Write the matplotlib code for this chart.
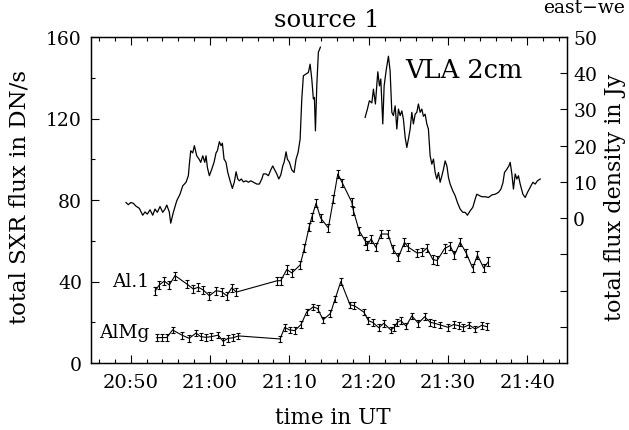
import numpy as np
import matplotlib
matplotlib.use("Agg")
import matplotlib.pyplot as plt
from matplotlib.ticker import FixedLocator, FixedFormatter, MultipleLocator

plt.rcParams.update({"font.family": "DejaVu Serif", "font.size": 13, "axes.linewidth": 0.9})

# time in minutes after 20:00 UT
vla1_t = [49.41, 49.70, 50.01, 50.33, 50.67, 51.09, 51.52, 51.81, 52.10, 52.44, 52.78, 53.07, 53.36, 53.70,
          54.04, 54.33, 54.55, 54.87, 55.05, 55.38, 55.81, 56.22, 56.56, 56.98, 57.27, 57.40, 57.57, 57.82,
          58.03, 58.33, 58.62, 58.83, 59.09, 59.34, 59.50, 59.67, 59.92, 60.22, 60.51, 60.76, 60.93, 61.18,
          61.39, 61.56, 61.77, 62.02, 62.24, 62.53, 62.82, 63.07, 63.29, 63.50, 63.70, 63.95, 64.21, 64.55,
          64.84, 65.14, 65.39, 65.64, 65.90, 66.22, 66.53, 66.73, 67.07, 67.36, 67.66, 67.91, 68.11, 68.42,
          68.67, 68.92, 69.17, 69.34, 69.59, 69.75, 70.01, 70.31, 70.60, 70.85, 71.10, 71.36, 71.57, 71.77,
          72.11, 72.40, 72.62, 72.83, 73.03, 73.16, 73.29, 73.46, 73.66, 73.92]
vla1_jy = [4.3, 3.7, 4.3, 4.1, 3.3, 2.7, 0.8, 1.7, 1.1, 2.3, 0.8, 2.5, 1.6, 3.2,
           1.6, 2.5, 3.6, 1.7, -1.4, 1.6, 4.8, 6.6, 8.9, 9.9, 11.7, 14.9, 18.6, 18.0,
           20.0, 17.2, 16.3, 15.4, 17.2, 15.4, 17.2, 14.0, 11.7, 13.5, 15.4, 18.0, 18.6, 21.1,
           20.0, 20.7, 16.3, 15.4, 12.6, 10.3, 8.2, 10.0, 12.8, 10.8, 10.3, 10.8, 10.0, 10.3,
           9.9, 10.3, 10.0, 9.7, 9.4, 9.4, 10.8, 12.2, 12.2, 11.7, 13.3, 14.4, 13.5, 12.2,
           10.8, 11.9, 14.4, 15.4, 18.3, 16.3, 15.4, 13.3, 12.6, 16.3, 18.1, 21.8, 32.9, 39.3,
           39.8, 40.2, 42.5, 38.4, 32.9, 33.3, 24.1, 36.5, 45.8, 47.2]

vla2_t = [79.55, 79.84, 80.09, 80.40, 80.60, 80.85, 81.15, 81.36, 81.53, 81.78, 81.95, 82.20, 82.49, 82.70,
          82.92, 83.12, 83.34, 83.55, 83.75, 83.97, 84.18, 84.38, 84.60, 84.81, 85.01, 85.23, 85.44, 85.64,
          85.86, 86.07, 86.27, 86.49, 86.70, 86.90, 87.12, 87.33, 87.53, 87.75, 87.96, 88.17, 88.38, 88.59,
          88.80, 89.01, 89.23, 89.43, 89.64, 89.86, 90.06, 90.27, 90.61, 90.90, 91.19, 91.53, 91.87, 92.16,
          92.45, 92.79, 93.13, 93.42, 93.63, 93.97, 94.27, 94.69, 95.10, 95.53, 95.95, 96.36, 96.67, 96.92,
          97.12, 97.42, 97.67, 97.84, 98.05, 98.25, 98.47, 98.68, 98.88, 99.10, 99.44, 99.73, 100.02, 100.36,
          100.70, 100.99, 101.28, 101.62]
vla2_jy = [27.8, 30.1, 32.4, 31.8, 35.6, 31.5, 40.4, 36.5, 38.4, 26.0, 36.5, 40.7, 44.7, 40.7,
           29.2, 28.3, 31.0, 24.6, 30.1, 28.3, 29.6, 27.3, 22.3, 19.5, 21.8, 24.6, 29.2, 26.0,
           28.7, 29.2, 31.5, 29.2, 30.1, 28.1, 28.7, 26.0, 24.6, 17.2, 14.9, 16.3, 12.6, 10.8,
           12.6, 9.9, 11.7, 13.5, 15.8, 14.4, 11.2, 9.4, 7.5, 6.2, 4.3, 2.5, 1.6, 1.6,
           0.8, 2.0, 3.0, 5.2, 6.6, 6.2, 5.9, 5.9, 5.7, 6.4, 6.6, 7.1, 8.0, 9.7,
           12.6, 13.5, 14.4, 15.4, 12.2, 8.0, 12.2, 10.8, 11.7, 9.4, 6.6, 5.7, 7.1, 8.5,
           9.9, 9.4, 10.3, 10.8]

al1_t = [53.07, 53.61, 54.24, 54.87, 55.59, 57.07, 57.90, 58.53, 59.16, 59.92, 60.76, 61.46, 62.11, 62.74,
         63.32, 68.49, 68.92, 69.68, 70.31, 71.36, 71.90, 72.49, 72.83, 73.37, 73.94, 74.92, 75.56, 76.11,
         76.69, 77.88, 78.08, 78.80, 79.55, 79.80, 80.31, 80.90, 81.57, 82.42, 83.05, 83.75, 84.51, 85.01,
         86.11, 86.74, 87.33, 88.09, 88.63, 89.58, 90.27, 90.81, 91.53, 92.29, 93.11, 93.71, 94.50, 95.10]
al1_dn = [35.3, 38.3, 40.2, 38.3, 42.9, 38.8, 36.3, 37.2, 35.8, 33.0, 35.5, 35.0, 33.0, 36.9,
          34.8, 40.4, 40.4, 45.9, 44.2, 48.1, 56.3, 66.6, 71.5, 78.4, 71.2, 66.3, 80.5, 92.8,
          88.3, 78.9, 74.7, 64.9, 60.0, 57.7, 60.9, 56.8, 63.3, 63.3, 56.0, 51.9, 59.2, 56.8,
          54.0, 54.3, 56.4, 50.8, 50.3, 56.2, 57.6, 53.0, 59.2, 54.0, 46.6, 52.9, 46.6, 49.8]

almg_t = [53.28, 53.92, 54.55, 55.28, 56.50, 57.38, 58.24, 58.81, 59.44, 60.13, 61.05, 61.65, 62.28, 62.94,
          63.58, 68.83, 69.42, 70.03, 70.69, 71.48, 72.18, 73.03, 73.56, 74.26, 75.18, 75.77, 76.49, 77.66,
          78.20, 79.39, 79.97, 80.56, 81.28, 81.91, 82.79, 83.21, 83.63, 84.05, 84.72, 85.44, 86.27, 87.05,
          87.75, 88.29, 89.01, 90.02, 90.71, 91.34, 91.95, 92.64, 93.42, 94.27, 94.90]
almg_dn = [12.4, 12.5, 12.5, 16.2, 13.6, 12.1, 14.7, 13.0, 12.6, 12.9, 13.7, 10.6, 12.1, 12.4,
           13.3, 11.8, 17.5, 16.2, 15.9, 18.9, 25.0, 27.6, 26.7, 21.2, 24.3, 31.4, 40.0, 28.5,
           28.1, 25.0, 20.8, 19.8, 17.3, 19.5, 16.2, 17.5, 20.0, 20.8, 18.1, 23.1, 19.5, 22.7,
           20.0, 19.5, 18.7, 17.5, 18.9, 18.3, 17.5, 18.7, 16.7, 18.5, 17.8]

al1_err = 2.0
almg_err = 1.6

x_major = [50, 60, 70, 80, 90, 100]
x_labels = ["20:50", "21:00", "21:10", "21:20", "21:30", "21:40"]
jy_ticks = [-30, -20, -10, 0, 10, 20, 30, 40, 50]
jy_labels = ["", "", "", "0", "10", "20", "30", "40", "50"]

fig = plt.figure(figsize=(6.29, 4.31), dpi=100)
ax = fig.add_axes([91/629, 67/431, 476/629, 326/431])
ax2 = ax.twinx()

ax.errorbar(al1_t, al1_dn, yerr=al1_err, color="k", lw=0.8, elinewidth=0.8, capsize=1.3, capthick=0.8)
ax.errorbar(almg_t, almg_dn, yerr=almg_err, color="k", lw=0.8, elinewidth=0.8, capsize=1.3, capthick=0.8)
ax2.plot(vla1_t, vla1_jy, color="k", lw=0.9)
ax2.plot(vla2_t, vla2_jy, color="k", lw=0.9)

ax.set_xlim(45, 105)
ax.set_ylim(0, 160)
ax2.set_ylim(-40, 50)

ax.xaxis.set_major_locator(FixedLocator(x_major))
ax.xaxis.set_major_formatter(FixedFormatter(x_labels))
ax.xaxis.set_minor_locator(MultipleLocator(2))
ax.yaxis.set_major_locator(MultipleLocator(40))
ax.yaxis.set_minor_locator(MultipleLocator(20))
ax.tick_params(axis="x", which="both", direction="in", top=True, bottom=True, pad=7, labelsize=14)
ax.tick_params(axis="y", which="both", direction="in", left=True, right=False, pad=6.5, labelsize=13.5)
ax.tick_params(which="major", length=5.5, width=0.8)
ax.tick_params(which="minor", length=3, width=0.8)

ax2.yaxis.set_major_locator(FixedLocator(jy_ticks))
ax2.yaxis.set_major_formatter(FixedFormatter(jy_labels))
ax2.tick_params(axis="y", direction="in", length=5, width=0.8, pad=4.5, labelsize=13.5)

fig.text(327/629, 1 - 27/431, "source 1", ha="center", va="baseline", fontsize=17.5)
# the reference crops this label at the figure edge; only the visible part is drawn
fig.text(543/629, 1 - 13/431, "east\u2212we", ha="left", va="baseline", fontsize=13.5)
fig.text(405/629, 1 - 78/431, "VLA 2cm", ha="left", va="baseline", fontsize=18.5)
fig.text(149/629, 1 - 287/431, "Al.1", ha="right", va="baseline", fontsize=13.5)
fig.text(149/629, 1 - 338/431, "AlMg", ha="right", va="baseline", fontsize=13.5)
fig.text(333/629, 1 - 424/431, "time in UT", ha="center", va="baseline", fontsize=15.5)
fig.text(20/629, 1 - 197/431, "total SXR flux in DN/s", rotation=90, ha="center", va="center", fontsize=16.5)
fig.text(615/629, 1 - 197/431, "total flux density in Jy", rotation=90, ha="center", va="center", fontsize=16)

fig.savefig("out.png", dpi=100)
